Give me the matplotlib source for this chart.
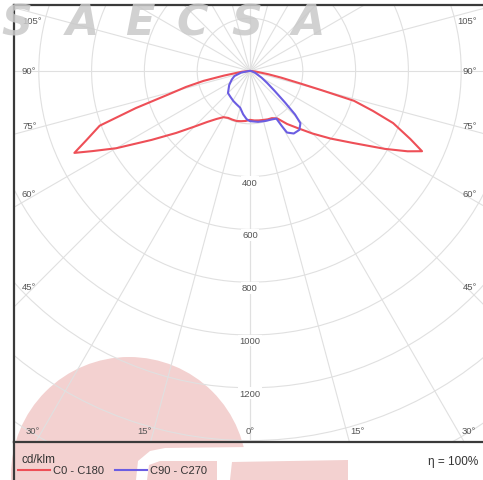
import numpy as np
import matplotlib
matplotlib.use('Agg')
import matplotlib.pyplot as plt
from matplotlib.patches import Ellipse, Polygon, Circle

plt.rcParams['font.family'] = ['Liberation Sans', 'DejaVu Sans']

# ---------------- data (cd/klm versus gamma angle, degrees) ----------------
c180_angles = [0, 5, 10, 15, 20, 25, 30, 35, 40, 45, 50, 55, 60, 63, 65, 67, 70, 72, 74, 76, 78, 80, 85, 90]
c180_values = [185, 190, 193, 196, 196, 196, 202, 222, 252, 298, 365, 455, 585, 668, 734, 675, 606, 455, 320, 250, 180, 100, 30, 3]

c0_angles = [0, 5, 10, 15, 20, 25, 30, 35, 40, 45, 50, 55, 60, 63, 65, 67, 70, 72, 74, 75, 76, 78, 80, 85, 90]
c0_values = [185, 188, 190, 192, 195, 197, 208, 245, 283, 335, 398, 475, 590, 670, 719, 660, 577, 490, 410, 280, 200, 120, 70, 20, 3]

c270_angles = [0, 4, 9, 15, 22, 29, 37, 45, 56, 65, 72, 80, 90]
c270_values = [190, 183, 166, 144, 136, 130, 123, 118, 95, 76, 62, 34, 4]

c90_angles = [0, 9, 17, 24, 29, 30, 31, 35, 40, 44, 46, 48, 51, 55, 60, 70, 80, 90]
c90_values = [190, 195, 198, 201, 206, 240, 272, 289, 291, 275, 237, 179, 121, 80, 51, 22, 8, 3]

radial_ticks = [400, 600, 800, 1000, 1200]
grid_radii = [200, 400, 600, 800, 1000, 1200, 1400, 1600, 1800]
grid_angles = list(range(0, 181, 15))
angle_ticks = [0, 15, 30, 45, 60, 75, 90, 105]
unit_label = "cd/klm"
legend_labels = ["C0 - C180", "C90 - C270"]
efficiency_label = "η = 100%"
watermark = "SAECSA"

# ---------------- styling / geometry ----------------
RED = '#ee4f57'
BLUE = '#6b5de2'
GRID = '#e0e0e0'
TXT = '#555555'
PINK = '#f3d1d0'

W, H = 483, 481
fig = plt.figure(figsize=(W / 100, H / 100), dpi=100)
fig.patch.set_facecolor('white')

s = 0.264            # px per cd/klm
cx, cy = 250, 72     # centre of diagram in pixels
L, R, T, B = 14, 488, 6, 443

ax = fig.add_axes([L / W, 1 - B / H, (R - L) / W, (B - T) / H])
ax.set_xlim((L - cx) / s, (R - cx) / s)
ax.set_ylim(-(B - cy) / s, (cy - T) / s)
ax.set_facecolor('none')
ax.set_xticks([]); ax.set_yticks([])
for k in ['left', 'top', 'bottom']:
    ax.spines[k].set_color('#3a3a3a')
    ax.spines[k].set_linewidth(1.6)
ax.spines['right'].set_visible(False)


def px2data(px, py):
    return (px - cx) / s, (cy - py) / s


# grid
for r in grid_radii:
    ax.add_patch(Circle((0, 0), r, fill=False, ec=GRID, lw=0.8, zorder=1))
for a in grid_angles:
    t = np.radians(a)
    for side in (-1, 1):
        ax.plot([0, side * 3000 * np.sin(t)], [0, -3000 * np.cos(t)], color=GRID, lw=0.8, zorder=1)


def plane(left_ang, left_val, right_ang, right_val):
    la = np.radians(np.array(left_ang[::-1], float))
    lv = np.array(left_val[::-1], float)
    ra = np.radians(np.array(right_ang, float))
    rv = np.array(right_val, float)
    x = np.concatenate([-lv * np.sin(la), rv * np.sin(ra)])
    y = np.concatenate([-lv * np.cos(la), -rv * np.cos(ra)])
    return x, y


xr, yr = plane(c180_angles, c180_values, c0_angles, c0_values)
ax.plot(xr, yr, color=RED, lw=1.5, zorder=4, solid_joinstyle='round')
xb, yb = plane(c270_angles, c270_values, c90_angles, c90_values)
ax.plot(xb, yb, color=BLUE, lw=1.5, zorder=5, solid_joinstyle='round')

# radial labels
for r in radial_ticks:
    ax.text(0, -r - 4, str(r), ha='center', va='top', fontsize=6.8, color=TXT, zorder=6,
            bbox=dict(boxstyle='square,pad=0.15', fc='white', ec='none'))

# angle labels
for a in angle_ticks:
    t = np.radians(a)
    for side in ([0] if a == 0 else [-1, 1]):
        c = np.cos(t)
        bottom = False
        if c > 0:
            dist = (432 - cy) / c
            xb_ = cx + side * dist * np.sin(t)
            if abs(xb_ - cx) <= 220:
                bottom = True
        if bottom:
            if side == -1:
                px, ha = xb_ - 2, 'right'
            elif side == 1:
                px, ha = xb_ + 4, 'left'
            else:
                px, ha = xb_, 'center'
            x, y = px2data(px, 432)
            ax.text(x, y, f"{a}°", ha=ha, va='center', fontsize=6.8, color=TXT, zorder=6)
        else:
            yray = cy + 220 * c / np.sin(t)
            if a < 90:
                va, yy = 'bottom', yray
            elif a == 90:
                va, yy = 'center', yray
            else:
                va, yy = 'top', yray + 4
            px, ha = (22, 'left') if side == -1 else (477, 'right')
            x, y = px2data(px, yy)
            ax.text(x, y, f"{a}°", ha=ha, va=va, fontsize=6.8, color=TXT, zorder=11)

# legend strip
ax2 = fig.add_axes([L / W, 0, (R - L) / W, (H - B) / H])
ax2.set_xlim(L, R)
ax2.set_ylim(H, B)
ax2.set_facecolor('none')
ax2.set_xticks([]); ax2.set_yticks([])
for k in ['top', 'right', 'bottom']:
    ax2.spines[k].set_visible(False)
ax2.spines['left'].set_color('#3a3a3a')
ax2.spines['left'].set_linewidth(1.6)
ax2.text(22, 460, unit_label, ha='left', va='center', fontsize=8.5, color='#333333')
ax2.plot([18, 50], [471, 471], color=RED, lw=1.5)
ax2.text(53, 471, legend_labels[0], ha='left', va='center', fontsize=8, color='#333333')
ax2.plot([115, 147], [471, 471], color=BLUE, lw=1.5)
ax2.text(150, 471, legend_labels[1], ha='left', va='center', fontsize=8, color='#333333')
ax2.text(478, 462, efficiency_label, ha='right', va='center', fontsize=8.5, color='#333333')

# watermark decorations
fig.add_artist(Ellipse((129 / W, 1 - 476 / H), 236 / W, 236 / H, transform=fig.transFigure,
                       fc=PINK, ec='none', zorder=-3))


def fpoly(pts, color, z):
    p = [(x / W, 1 - y / H) for x, y in pts]
    fig.add_artist(Polygon(p, closed=True, transform=fig.transFigure, fc=color, ec='none', zorder=z))


fpoly([(136, 481), (138, 462), (150, 452), (165, 449), (250, 448), (250, 481)], 'white', -2.5)
fpoly([(147, 481), (149, 466), (160, 462), (217, 462), (217, 481)], PINK, -2)
fpoly([(230, 481), (232, 463), (348, 461), (348, 481)], PINK, -2)

for ch, xc in zip(watermark, [17, 82, 140, 192, 247, 308]):
    fig.text(xc / W, 1 - 35 / H, ch, ha='center', va='baseline', fontsize=31, fontweight='bold',
             style='italic', family='DejaVu Sans', color='#c9c9c9', alpha=0.85, zorder=10)

fig.savefig('out.png', dpi=100)
